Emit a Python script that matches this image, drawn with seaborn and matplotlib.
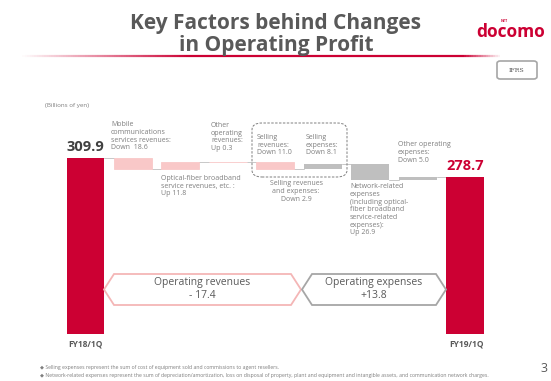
import numpy as np
import pandas as pd
import matplotlib
matplotlib.use("Agg")
import matplotlib.pyplot as plt
import seaborn as sns
from matplotlib.patches import Polygon, FancyBboxPatch
from matplotlib.collections import LineCollection

# ---------------- data ----------------
categories = ["FY18/1Q", "Mobile communications services revenues",
              "Optical-fiber broadband service revenues, etc.",
              "Other operating revenues", "Selling revenues", "Selling expenses",
              "Network-related expenses", "Other operating expenses", "FY19/1Q"]
profit_effect = [309.9, -18.6, 11.8, 0.3, -11.0, 8.1, -26.9, 5.0, 278.7]
kinds = ["total", "revenue", "revenue", "revenue", "revenue",
         "expense", "expense", "expense", "total"]
total_labels = ["309.9", "278.7"]
tick_labels = ["FY18/1Q", "FY19/1Q"]
revenue_change = "- 17.4"
expense_change = "+13.8"
selling_net = "Down 2.9"

# ---------------- waterfall geometry from data ----------------
bottoms, heights, levels = [], [], []
level = 0.0
for v, k in zip(profit_effect, kinds):
    if k == "total":
        bottoms.append(0.0)
        heights.append(v)
        level = v
    else:
        new = level + v
        bottoms.append(min(level, new))
        heights.append(abs(v))
        level = new
    levels.append(level)
df = pd.DataFrame({"cat": categories, "height": heights, "bottom": bottoms, "kind": kinds})

RED = "#CC0033"
PINK = "#F9C8C8"
GREY = "#BFBFBF"
TXT = "#7F7F7F"
DARK = "#595959"
colors = {"total": RED, "revenue": PINK, "expense": GREY}

W, H = 551, 381
sns.set_theme(style="white")
plt.rcParams["font.family"] = ["Open Sans", "DejaVu Sans"]
fig = plt.figure(figsize=(W / 100, H / 100), dpi=100)

def P(x, y):
    return (x / W, 1 - y / H)

# axes: x index -0.5..8.5 -> px 61.8..488.7 ; y px 100..334
ax = fig.add_axes([61.8 / W, (H - 334) / H, 426.9 / W, 234 / H])
sns.barplot(data=df, x="cat", y="height", bottom=df["bottom"].values,
            color=GREY, width=0.8, ax=ax, saturation=1, linewidth=0)
for p, k in zip(ax.patches, kinds):
    p.set_facecolor(colors[k])
    p.set_edgecolor(colors[k] if k == "revenue" else "none")
    p.set_linewidth(0.6 if k == "revenue" else 0)
ax.set_xlim(-0.5, 8.5)
ax.set_ylim(16.57, 406.6)
ax.set_axis_off()

# connectors
for i in range(len(categories) - 1):
    ax.plot([i + 0.4, i + 0.6], [levels[i], levels[i]], color="#C8C8C8", lw=0.7, zorder=0)

# ---------------- texts ----------------
fig.text(*P(276, 51), "Key Factors behind Changes\nin Operating Profit", ha="center", va="baseline",
         fontsize=15, fontweight="bold", color=DARK, linespacing=1.05)

# gradient red line
xs = np.linspace(20, 500, 200)
pts = np.array([[P(x, 56)[0], P(x, 56)[1]] for x in xs])
segs = np.stack([pts[:-1], pts[1:]], axis=1)
t = (xs[:-1] - 20) / 480
alpha = np.clip(np.minimum(t / 0.35, (1 - t) / 0.08), 0, 1)
cols = [(0.8, 0.0, 0.2, a) for a in alpha]
fig.add_artist(LineCollection(segs, colors=cols, linewidths=1.6, transform=fig.transFigure))

# docomo logo
fig.text(*P(511, 37), "docomo", ha="center", va="baseline", fontsize=12.5,
         fontweight="bold", color=RED)
fig.text(*P(504, 22), "NTT", ha="center", va="baseline", fontsize=2.5,
         fontweight="bold", color=RED)

# IFRS box
x0, y0 = P(497, 79)
x1, y1 = P(537, 61)
fig.add_artist(FancyBboxPatch((x0, y0), x1 - x0, y1 - y0,
                              boxstyle="round,pad=0,rounding_size=0.006",
                              transform=fig.transFigure, fc="white", ec="#A6A6A6", lw=1.2))
fig.text(*P(517, 70), "IFRS", ha="center", va="center", fontsize=4.5,
         family="DejaVu Serif", color=DARK)

fig.text(*P(45, 105), "(Billions of yen)", ha="left", va="center", fontsize=4.5, color=TXT)

small = dict(fontsize=5, color=TXT, linespacing=1.15, va="top", ha="left")
fig.text(*P(111, 121), "Mobile\ncommunications\nservices revenues:\nDown  18.6", **small)
fig.text(*P(211, 122), "Other\noperating\nrevenues:\nUp 0.3", **small)
fig.text(*P(161, 175), "Optical-fiber broadband\nservice revenues, etc. :\nUp 11.8", **small)
fig.text(*P(257, 134), "Selling\nrevenues:\nDown 11.0", **small)
fig.text(*P(306, 134), "Selling\nexpenses:\nDown 8.1", **small)
fig.text(*P(296, 180), "Selling revenues\nand expenses:\n" + selling_net,
         fontsize=5, color=TXT, linespacing=1.15, va="top", ha="center")
fig.text(*P(350, 183), "Network-related\nexpenses\n(including optical-\nfiber broadband\nservice-related\nexpenses):\nUp 26.9", **small)
fig.text(*P(398, 141), "Other operating\nexpenses:\nDown 5.0", **small)

# dashed box
bx0, by0 = P(252, 177)
bx1, by1 = P(347, 123)
fig.add_artist(FancyBboxPatch((bx0, by0), bx1 - bx0, by1 - by0,
                              boxstyle="round,pad=0,rounding_size=0.018",
                              transform=fig.transFigure, fc="none", ec="#7F7F7F",
                              lw=0.7, ls=(0, (2.5, 1.5))))

# total labels
ax.text(0, levels[0] + 7, total_labels[0], ha="center", va="bottom", fontsize=10.5,
        fontweight="bold", color="#404040")
ax.text(8, levels[-1] + 7, total_labels[1], ha="center", va="bottom", fontsize=10.5,
        fontweight="bold", color=RED)

# tick labels
fig.text(*P(85, 347), tick_labels[0], ha="center", va="baseline", fontsize=6,
         fontweight="bold", color=DARK)
fig.text(*P(466, 347), tick_labels[1], ha="center", va="baseline", fontsize=6,
         fontweight="bold", color=DARK)

# hexagon arrows
def hexagon(xl, xr, yt, yb, ec):
    ym = (yt + yb) / 2
    d = 10
    pts = [P(xl, ym), P(xl + d, yt), P(xr - d, yt), P(xr, ym), P(xr - d, yb), P(xl + d, yb)]
    fig.add_artist(Polygon(pts, closed=True, transform=fig.transFigure,
                           fc="white", ec=ec, lw=1.3))

hexagon(104, 301, 274, 305, "#F4B6B6")
hexagon(302, 446, 274, 305, "#A6A6A6")
fig.text(*P(202, 289), "Operating revenues\n" + revenue_change, ha="center", va="center",
         fontsize=7.5, color=DARK, linespacing=1.25)
fig.text(*P(374, 289), "Operating expenses\n" + expense_change, ha="center", va="center",
         fontsize=7.5, color=DARK, linespacing=1.25)

# footnotes
foot = dict(fontsize=3.7, color=TXT, ha="left", va="center")
fig.text(*P(40, 368), "◆ Selling expenses represent the sum of cost of equipment sold and commissions to agent resellers.",
         **foot)
fig.text(*P(40, 375), "◆ Network-related expenses represent the sum of depreciation/amortization, loss on disposal of property, plant and equipment and intangible assets, and communication network charges.",
         **foot)
fig.text(*P(544, 369), "3", ha="center", va="center", fontsize=9, color=DARK)

fig.savefig("out.png", dpi=100)
